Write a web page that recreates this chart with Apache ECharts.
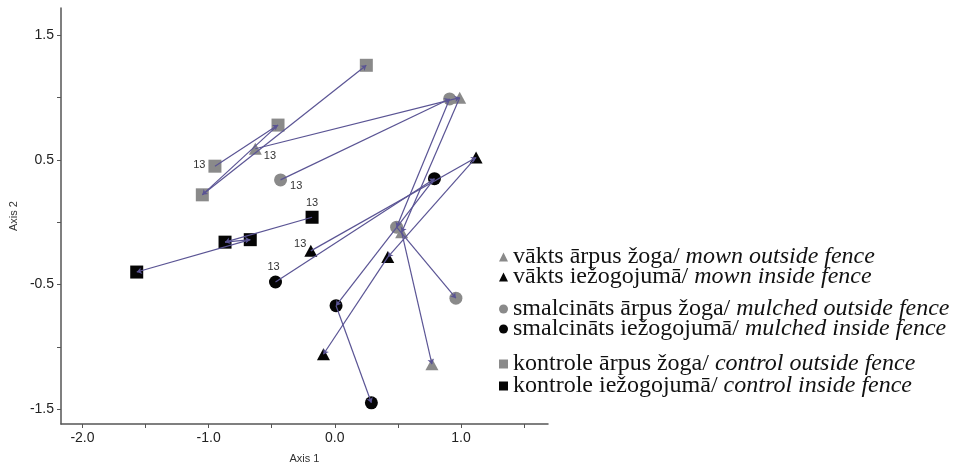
<!DOCTYPE html>
<html>
<head>
<meta charset="utf-8">
<script src="https://cdn.jsdelivr.net/npm/echarts@6/dist/echarts.min.js"></script>
<style>
  html, body { margin: 0; padding: 0; background: #fff; }
  #chart { width: 955px; height: 469px; }
</style>
</head>
<body>
<div id="chart"></div>
<script>
// Treatment names (Latvian / English)
const seriesNames = [
  'vākts ārpus žoga',
  'vākts iežogojumā',
  'smalcināts ārpus žoga',
  'smalcināts iežogojumā',
  'kontrole ārpus žoga',
  'kontrole iežogojumā'
];
const seriesNotes = [
  'mown outside fence',
  'mown inside fence',
  'mulched outside fence',
  'mulched inside fence',
  'control outside fence',
  'control inside fence'
];

// Ordination scores [Axis 1, Axis 2]; each trajectory starts at the 2013 survey
const mownOutside    = [[-0.63, 0.59], [0.99, 1.00], [0.53, -0.08], [0.77, -1.14]];
const mownInside     = [[-0.19, -0.23], [1.12, 0.52], [0.42, -0.28], [-0.09, -1.06]];
const mulchedOutside = [[-0.43, 0.34], [0.91, 0.99], [0.49, -0.04], [0.96, -0.61]];
const mulchedInside  = [[-0.47, -0.48], [0.79, 0.35], [0.01, -0.67], [0.29, -1.45]];
const controlOutside = [[-0.95, 0.45], [-0.45, 0.78], [-1.05, 0.22], [0.25, 1.26]];
const controlInside  = [[-0.18, 0.04], [-0.87, -0.16], [-0.67, -0.14], [-1.57, -0.40]];
const startLabel = '13';

// Axis ticks and labelled values
const xTicks = [-2, -1.5, -1, -0.5, 0, 0.5, 1, 1.5];
const xTickLabels = [-2, -1, 0, 1];
const yTicks = [-1.5, -1, -0.5, 0, 0.5, 1, 1.5];
const yTickLabels = [-1.5, -0.5, 0.5, 1.5];

const groups = [mownOutside, mownInside, mulchedOutside, mulchedInside, controlOutside, controlInside];
const symbols = ['triangle', 'triangle', 'circle', 'circle', 'rect', 'rect'];
const colors = ['#8a8a8a', '#050505', '#8a8a8a', '#050505', '#8a8a8a', '#050505'];
const sizes = [[13, 12], [13, 12], 13, 13, 13, 13];
// where the "13" tag sits next to the first point of each trajectory
const startLabelPos = [
  { position: 'right', offset: [-1, 7] },
  { position: 'left', offset: [5, -7] },
  { position: 'right', offset: [0, 6] },
  { position: 'top', offset: [-2, 0] },
  { position: 'left', offset: [0, -1] },
  { position: 'top', offset: [0, 1] }
];
const legendRows = [257, 277, 309, 329, 364, 386];

const series = [];
groups.forEach((pts, g) => {
  series.push({
    name: seriesNames[g],
    type: 'scatter',
    symbol: symbols[g],
    symbolSize: sizes[g],
    itemStyle: { color: colors[g], opacity: 1 },
    z: 2,
    data: pts.map((p, i) => i === 0 ? {
      value: p,
      label: Object.assign({
        show: true,
        formatter: startLabel,
        fontFamily: 'Arial, "Liberation Sans", sans-serif',
        fontSize: 11,
        color: '#333',
        distance: 3
      }, startLabelPos[g])
    } : p)
  });
  const segs = [];
  for (let i = 0; i < pts.length - 1; i++) {
    segs.push({ coords: [pts[i], pts[i + 1]] });
  }
  series.push({
    type: 'lines',
    coordinateSystem: 'cartesian2d',
    symbol: ['none', 'arrow'],
    symbolSize: 5,
    lineStyle: { color: '#5a5494', width: 1.2, opacity: 1 },
    silent: true,
    z: 3,
    data: segs
  });
});

const serif = '"Liberation Serif", "Times New Roman", serif';
const legends = seriesNames.map((n, g) => ({
  data: [n],
  left: 499,
  top: legendRows[g] - 12,
  padding: 0,
  itemWidth: 9,
  itemHeight: 9,
  itemGap: 0,
  selectedMode: false,
  formatter: name => '{lv|' + name + '/ }{en|' + seriesNotes[seriesNames.indexOf(name)] + '}',
  textStyle: {
    rich: {
      lv: { fontFamily: serif, fontSize: 24, color: '#111', lineHeight: 24 },
      en: { fontFamily: serif, fontSize: 24, fontStyle: 'italic', color: '#111', lineHeight: 24 }
    }
  }
}));

const axisFont = { fontFamily: 'Arial, "Liberation Sans", sans-serif', fontSize: 14, color: '#222' };

const chart = echarts.init(document.getElementById('chart'), null, { renderer: 'canvas' });
chart.setOption({
  animation: false,
  backgroundColor: '#fff',
  grid: { left: 60, right: 407, top: 8, bottom: 43, containLabel: false },
  legend: legends,
  xAxis: {
    type: 'value',
    min: -2.17,
    max: 1.69,
    name: 'Axis 1',
    nameLocation: 'middle',
    nameGap: 29,
    nameTextStyle: { fontFamily: 'Arial, "Liberation Sans", sans-serif', fontSize: 11, color: '#333' },
    axisLine: { show: true, onZero: false, lineStyle: { color: '#555', width: 1.5 } },
    axisTick: { show: true, length: 4, lineStyle: { color: '#555' }, customValues: xTicks },
    axisLabel: Object.assign({ margin: 7, customValues: xTickLabels, formatter: v => v.toFixed(1) }, axisFont),
    splitLine: { show: false }
  },
  yAxis: {
    type: 'value',
    min: -1.62,
    max: 1.72,
    name: 'Axis 2',
    nameLocation: 'middle',
    nameGap: 40,
    nameRotate: 90,
    nameTextStyle: { fontFamily: 'Arial, "Liberation Sans", sans-serif', fontSize: 11, color: '#333' },
    axisLine: { show: true, onZero: false, lineStyle: { color: '#555', width: 1.5 } },
    axisTick: { show: true, length: 4, lineStyle: { color: '#555' }, customValues: yTicks },
    axisLabel: Object.assign({ margin: 7, customValues: yTickLabels, formatter: v => v.toFixed(1) }, axisFont),
    splitLine: { show: false }
  },
  series: series
});
</script>
</body>
</html>
